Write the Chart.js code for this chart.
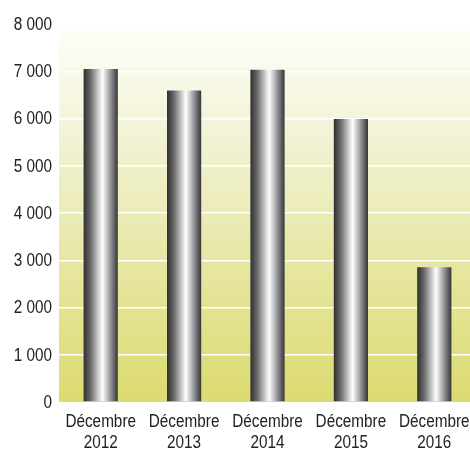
<!DOCTYPE html>
<html>
<head>
<meta charset="utf-8">
<script src="https://cdn.jsdelivr.net/npm/chart.js@4"></script>
<style>
  html, body { margin: 0; padding: 0; background: #fff; overflow: hidden; }
  #wrap { width: 476px; height: 450px; }
</style>
</head>
<body>
<div id="wrap"><canvas id="stockChart" width="476" height="450"></canvas></div>
<script>
// Données du graphique
const categories = ['Décembre 2012', 'Décembre 2013', 'Décembre 2014', 'Décembre 2015', 'Décembre 2016'];
const values = [7050, 6590, 7030, 5990, 2850];
const yTickLabels = ['0', '1 000', '2 000', '3 000', '4 000', '5 000', '6 000', '7 000', '8 000'];

const BAR_PCT = 0.41;
const FONT = "18px 'Liberation Sans', Arial, sans-serif";
const NARROW = 0.85; // police condensée simulée

// fond dégradé de la zone du graphique
const plotBackground = {
    id: 'plotBackground',
    beforeDraw(chart) {
        const { ctx, chartArea: a } = chart;
        const g = ctx.createLinearGradient(0, a.top, 0, a.bottom);
        g.addColorStop(0, '#ffffff');
        g.addColorStop(0.03, '#fdfdf6');
        g.addColorStop(0.3, '#f2f2d6');
        g.addColorStop(0.65, '#e6e6a0');
        g.addColorStop(1, '#dcdb70');
        ctx.save();
        ctx.fillStyle = g;
        ctx.fillRect(a.left, a.top, a.right - a.left, a.bottom - a.top);
        ctx.restore();
    }
};

// étiquettes des axes, dessinées en condensé
function narrowText(ctx, text, x, y, align) {
    ctx.save();
    ctx.translate(x, y);
    ctx.scale(NARROW, 1);
    ctx.textAlign = align;
    ctx.fillText(text, 0, 0);
    ctx.restore();
}

const axisLabels = {
    id: 'axisLabels',
    afterDraw(chart) {
        const { ctx, scales: { x, y } } = chart;
        ctx.save();
        ctx.font = FONT;
        ctx.fillStyle = '#222';
        ctx.textBaseline = 'middle';
        y.ticks.forEach((t, i) => {
            narrowText(ctx, yTickLabels[i], 52, y.getPixelForValue(t.value) + 1, 'right');
        });
        ctx.textBaseline = 'alphabetic';
        categories.forEach((c, i) => {
            const cx = x.getPixelForValue(i);
            const parts = c.split(' ');
            narrowText(ctx, parts[0], cx, 427, 'center');
            narrowText(ctx, parts[1], cx, 448, 'center');
        });
        ctx.restore();
    }
};

// barres "métal" : dégradé horizontal propre à chaque barre
function metalGradient(c) {
    const chart = c.chart;
    if (!chart.chartArea) return '#555';
    const xs = chart.scales.x;
    const cx = xs.getPixelForValue(c.dataIndex);
    const w = (xs.width / categories.length) * BAR_PCT;
    const g = chart.ctx.createLinearGradient(cx - w / 2, 0, cx + w / 2, 0);
    g.addColorStop(0, '#2e2e2e');
    g.addColorStop(0.2, '#6a6a6a');
    g.addColorStop(0.42, '#c8c8c8');
    g.addColorStop(0.55, '#ffffff');
    g.addColorStop(0.72, '#b4b4b8');
    g.addColorStop(0.88, '#6c6c70');
    g.addColorStop(1, '#353535');
    return g;
}

new Chart(document.getElementById('stockChart'), {
    type: 'bar',
    data: {
        labels: categories,
        datasets: [{
            data: values,
            backgroundColor: metalGradient,
            barPercentage: BAR_PCT,
            categoryPercentage: 1,
            borderWidth: 0
        }]
    },
    options: {
        responsive: false,
        animation: false,
        layout: { padding: { top: 24, left: 0, right: 0, bottom: 0 } },
        plugins: { legend: { display: false }, tooltip: { enabled: false } },
        scales: {
            x: {
                grid: { display: false },
                border: { display: false },
                ticks: { display: false },
                afterFit(s) { s.height = 48; }
            },
            y: {
                min: 0,
                max: 8000,
                grid: {
                    color: c => (c.tick && c.tick.value === 0) ? 'rgba(0,0,0,0)' : '#ffffff',
                    lineWidth: 1.5,
                    drawTicks: false
                },
                border: { display: false },
                ticks: { display: false, stepSize: 1000 },
                afterFit(s) { s.width = 59; }
            }
        }
    },
    plugins: [plotBackground, axisLabels]
});
</script>
</body>
</html>
